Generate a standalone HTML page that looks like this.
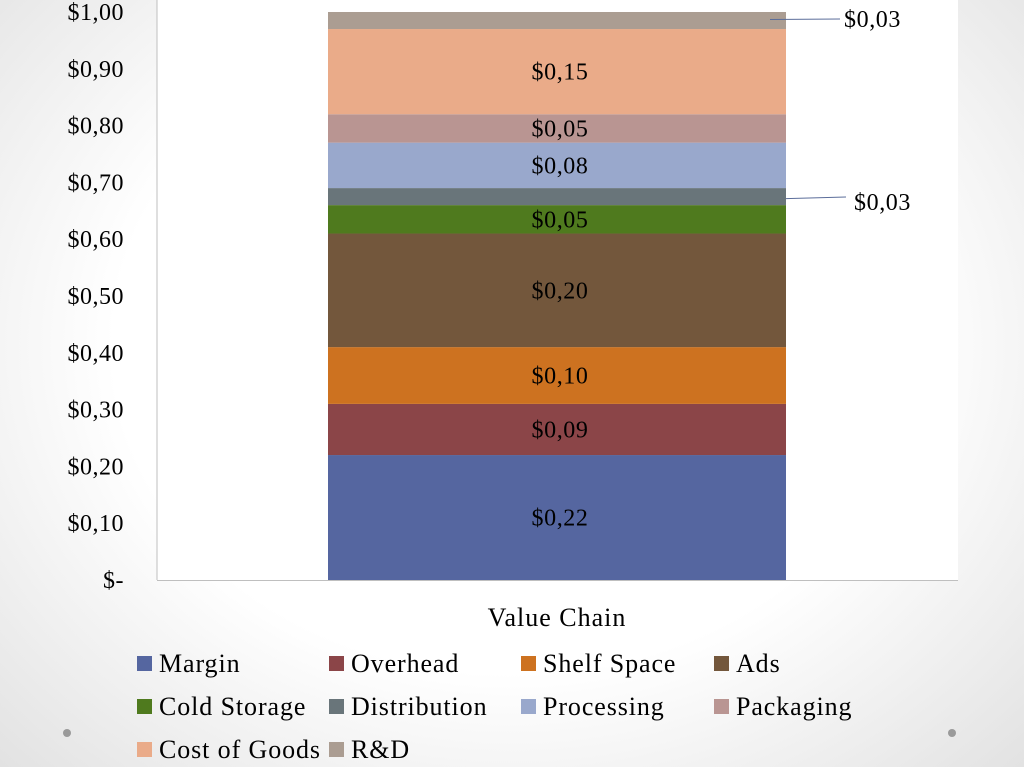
<!DOCTYPE html>
<html><head><meta charset="utf-8"><style>
html,body{margin:0;padding:0;}
body{width:1024px;height:767px;overflow:hidden;background:radial-gradient(ellipse at 50% 45%,#ffffff 55%,#e2e2e2 100%);font-family:"Liberation Serif",serif;}
svg{position:absolute;left:0;top:0;}
text{font-family:"Liberation Serif",serif;fill:#000;}
</style></head><body>
<svg width="1024" height="767">
<g id="plot"></g>
</svg>
<script>
const categories=["Margin","Overhead","Shelf Space","Ads","Cold Storage","Distribution","Processing","Packaging","Cost of Goods","R&D"];
const values=[0.22,0.09,0.10,0.20,0.05,0.03,0.08,0.05,0.15,0.03];
const colors=["#5566a0","#8b4548","#cd7220","#73573c","#4f7a1e","#69757a","#99a8cc","#b99592","#eaab89","#ab9d92"];
const tickLabels=["$-","$0,10","$0,20","$0,30","$0,40","$0,50","$0,60","$0,70","$0,80","$0,90","$1,00"];
const tickValues=[0,0.1,0.2,0.3,0.4,0.5,0.6,0.7,0.8,0.9,1.0];
const NS="http://www.w3.org/2000/svg";
const g=document.getElementById('plot');
const y=v=>580-v*568;
function mk(t,a,p){const e=document.createElementNS(NS,t);for(const k in a)e.setAttribute(k,a[k]);(p||g).appendChild(e);return e;}
const bg=mk('rect',{x:157,y:0,width:801,height:580,fill:'#fff'});


tickValues.forEach((v,i)=>{const t=mk('text',{x:124,y:y(v)+8,'text-anchor':'end','font-size':24,'letter-spacing':0.5});t.textContent=tickLabels[i];

});
let cum=0;
values.forEach((v,i)=>{
 const r=mk('rect',{x:328,y:y(cum+v),width:458,height:y(cum)-y(cum+v),fill:colors[i]});
 
 
 const lbl='$'+v.toFixed(2).replace('.',',');
 const mid=(y(cum)+y(cum+v))/2;
 let t;
 if(v<=0.03){
  const lx=i===9?[770,840]:[786,846];
  mk('line',{x1:lx[0],y1:mid+(i===9?-1:2),x2:lx[1],y2:(i===9?19:197),stroke:'#5b6d9a','stroke-width':1});
  t=mk('text',{x:lx[1]+(i===9?4:8),y:i===9?27:210,'font-size':24,'letter-spacing':0.6});
 }else{
  t=mk('text',{x:560,y:mid+8,'text-anchor':'middle','font-size':24,'letter-spacing':0.6});
 }
 t.textContent=lbl;
 
 
 cum+=v;
});
mk('line',{x1:157,y1:0,x2:157,y2:580,stroke:'#bfbfbf'});
mk('line',{x1:157,y1:580.5,x2:958,y2:580.5,stroke:'#bfbfbf'});
const xt=mk('text',{x:557,y:626,'text-anchor':'middle','font-size':26,'letter-spacing':1});xt.textContent="Value Chain";


const lx=[137,329,521,714],ly=[663,706,749];
categories.forEach((c,i)=>{
 const cx=lx[i%4],cy=ly[Math.floor(i/4)];
 const lg=mk('g',{});
 
 
 mk('rect',{x:cx,y:cy-7,width:15,height:15,fill:colors[i]},lg);
 const t=mk('text',{x:cx+22,y:cy+9,'font-size':26,'letter-spacing':0.9},lg);t.textContent=c;
});
[67,952].forEach(x=>{const d=mk('circle',{cx:x,cy:733,r:4,fill:'#9a9a9a'});

});
</script>
</body></html>
